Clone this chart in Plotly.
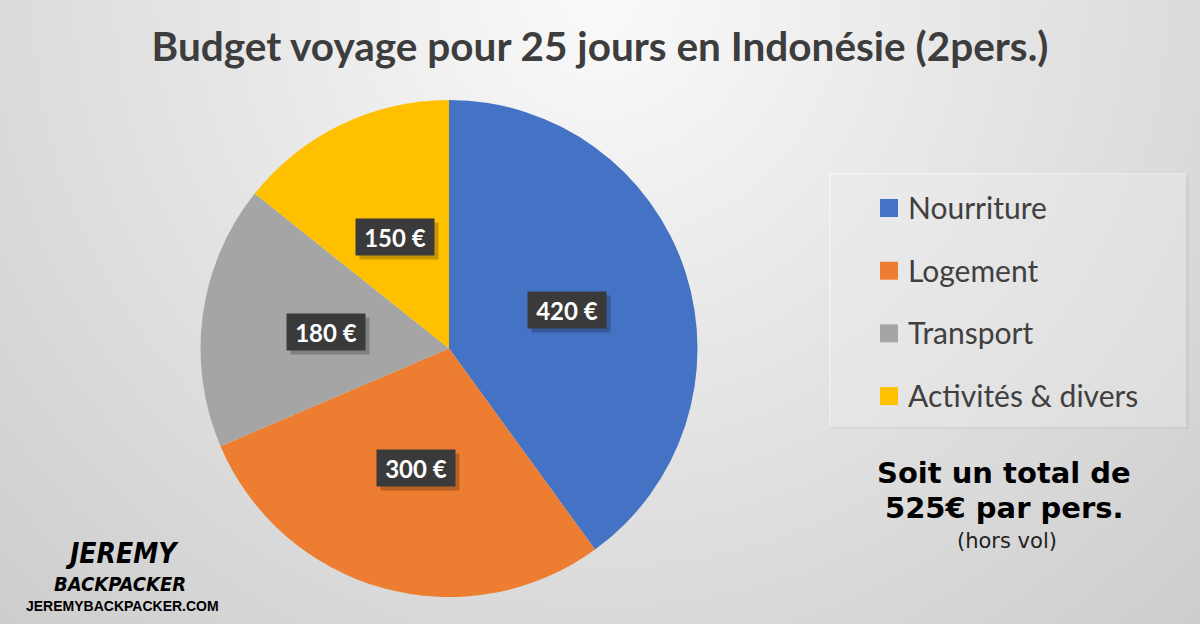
import math
import plotly.graph_objects as go

# ---------------- data ----------------
categories = ["Nourriture", "Logement", "Transport", "Activités & divers"]
values = [420, 300, 180, 150]
colors = ["#4472C4", "#ED7D31", "#A5A5A5", "#FFC000"]
currency = "€"
title_text = "Budget voyage pour 25 jours en Indonésie (2pers.)"
total_lines = ["Soit un total de", "525€ par pers."]
total_note = "(hors vol)"

# ---------------- geometry (pixel space) ----------------
W, H = 1200, 624
CX, CY, R = 449, 348.5, 248.5

fig = go.Figure()

# background radial gradient
fig.add_trace(go.Scatter(
    x=[-300, 1500, 1500, -300, -300], y=[-900, -900, 900, 900, -900],
    fill="toself", mode="lines", line=dict(width=0),
    fillgradient=dict(type="radial", colorscale=[[0, "#fafafa"], [1, "#cbcbcb"]]),
    hoverinfo="skip", showlegend=False,
))

fig.add_trace(go.Pie(
    labels=categories, values=values,
    marker=dict(colors=colors, line=dict(width=0)),
    sort=False, direction="clockwise", rotation=0,
    textinfo="none", showlegend=False,
    domain=dict(x=[(CX - R) / W, (CX + R) / W], y=[1 - (CY + R) / H, 1 - (CY - R) / H]),
    hovertemplate="%{label}: %{value} €<extra></extra>",
))

annotations = []
shapes = []

# slice value labels (dark boxes with shadow)
total = sum(values)
cum = 0
for v in values:
    mid = (cum + v / 2) / total * 2 * math.pi
    cum += v
    lx = CX + 0.5 * R * math.sin(mid)
    ly = CY - 0.5 * R * math.cos(mid)
    annotations.append(dict(x=lx, y=ly, xref="x", yref="y", text=" ", showarrow=False,
                            width=70, height=28, borderpad=4, bgcolor="rgba(0,0,0,0.22)",
                            xshift=4, yshift=-4))
    annotations.append(dict(x=lx, y=ly, xref="x", yref="y", text=f"{v} {currency}", showarrow=False,
                            width=70, height=28, borderpad=4, bgcolor="#3a3a3a",
                            font=dict(family="Lato", size=24, color="white", weight="bold")))

# legend box
shapes.append(dict(type="rect", xref="x", yref="y", x0=831, x1=1189, y0=175, y1=429,
                   fillcolor="rgba(0,0,0,0.04)", line=dict(width=0), layer="above"))
shapes.append(dict(type="rect", xref="x", yref="y", x0=829, x1=1186, y0=173, y1=427,
                   fillcolor="rgba(255,255,255,0.35)", line=dict(width=0), layer="above"))
for i, (cat, col) in enumerate(zip(categories, colors)):
    yc = 207 + i * 62.7
    shapes.append(dict(type="rect", xref="x", yref="y", x0=880, x1=898, y0=yc - 8, y1=yc + 10,
                       fillcolor=col, line=dict(width=0), layer="above"))
    annotations.append(dict(x=906, y=yc, xref="x", yref="y", text=cat, showarrow=False,
                            xanchor="left", yanchor="middle",
                            font=dict(family="Lato", size=30, color="#404040")))

# total text
for j, line in enumerate(total_lines):
    annotations.append(dict(x=1004, y=473 + j * 35, xref="x", yref="y", text=line, showarrow=False,
                            xanchor="center", yanchor="middle",
                            font=dict(family="DejaVu Sans", size=29, color="black", weight="bold")))
annotations.append(dict(x=1007, y=541, xref="x", yref="y", text=total_note, showarrow=False,
                        xanchor="center", yanchor="middle",
                        font=dict(family="DejaVu Sans", size=21, color="#222222")))

# logo
annotations.append(dict(x=122, y=553, xref="x", yref="y", text="<i>JEREMY</i>", showarrow=False,
                        font=dict(family="DejaVu Sans Condensed", size=28, color="black", weight="bold")))
annotations.append(dict(x=120, y=584, xref="x", yref="y", text="<i>BACKPACKER</i>", showarrow=False,
                        font=dict(family="DejaVu Sans Condensed", size=20, color="black", weight="bold")))
annotations.append(dict(x=122, y=606, xref="x", yref="y", text="JEREMYBACKPACKER.COM", showarrow=False,
                        font=dict(family="Liberation Sans", size=14, color="black", weight="bold")))

fig.update_layout(
    width=W, height=H,
    margin=dict(l=0, r=0, t=0, b=0),
    paper_bgcolor="#dedede", plot_bgcolor="rgba(0,0,0,0)",
    xaxis=dict(range=[0, W], visible=False, fixedrange=True),
    yaxis=dict(range=[H, 0], visible=False, fixedrange=True),
    title=dict(text=title_text, x=0.5, xanchor="center", y=1 - 47 / H, yanchor="middle",
               font=dict(family="Lato", size=40.5, color="#3d3d3d", weight="bold")),
    annotations=annotations, shapes=shapes, showlegend=False,
)

fig.write_html("out.html")
